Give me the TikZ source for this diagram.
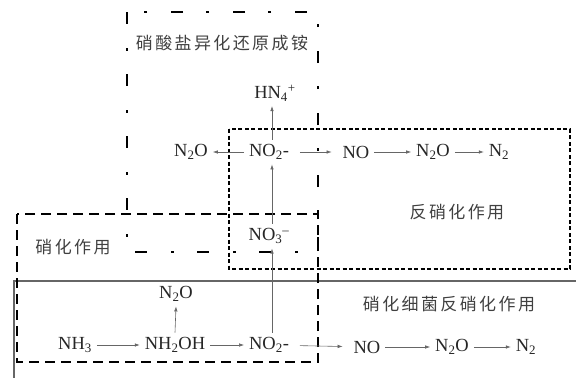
\documentclass[tikz,border=0pt]{standalone}
\usepackage{fontspec}
\setmainfont{Liberation Serif}
\newfontfamily\cjk[LetterSpace=14]{Noto Sans CJK SC}
\usetikzlibrary{arrows.meta,positioning}

\begin{document}
\begin{tikzpicture}[x=1pt,y=-1pt,
  chem/.style={inner sep=0pt,outer sep=5pt,font=\fontsize{18.5}{20}\selectfont,text=black!85},
  zh/.style={inner sep=0pt,font=\cjk\fontsize{17}{19}\selectfont,text=black!75},
  arr/.style={-{Latex[length=5pt,width=3.5pt]},draw=black!60,line width=0.6pt}]
          \useasboundingbox (0,0) rectangle (576,378);
          % boxes
          \draw[black!60,line width=1.2pt] (576,281) -- (14,281) -- (14,378);
          \draw[line width=2.5pt,dash pattern=on 12pt off 24pt on 3pt off 23pt] (127,12) rectangle (318,252);
          \draw[line width=2.5pt,dash pattern=on 10pt off 6pt] (17,214) rectangle (318,362);
          \draw[line width=2pt,dash pattern=on 4pt off 2.5pt] (229,129) rectangle (570,269);
          % labels
          \node[zh] at (222,43) (dnra) {硝酸盐异化还原成铵};
          \node[zh] at (457,212) (denit) {反硝化作用};
          \node[zh] at (73,247) (nitr) {硝化作用};
          \node[zh] at (449,304) (nbd) {硝化细菌反硝化作用};
          % upper pathway
          \node[chem] at (275,93) (hn4) {HN\textsubscript{4}\textsuperscript{+}};
          \node[chem] at (269,152) (no2a) {NO\textsubscript{2}-};
          \node[chem] at (191,152) (n2oa) {N\textsubscript{2}O};
          \node[chem] at (356,152) (noa) {NO};
          \node[chem] at (433,152) (n2ob) {N\textsubscript{2}O};
          \node[chem] at (499,152) (n2a) {N\textsubscript{2}};
          \node[chem] at (269,236) (no3) {NO\textsubscript{3}\textsuperscript{--}};
          % lower pathway
          \node[chem] at (176,294) (n2oc) {N\textsubscript{2}O};
          \node[chem] at (75,345) (nh3) {NH\textsubscript{3}};
          \node[chem] at (175,345) (nh2oh) {NH\textsubscript{2}OH};
          \node[chem] at (269,345) (no2b) {NO\textsubscript{2}-};
          \node[chem] at (367,347) (nob) {NO};
          \node[chem] at (452,347) (n2od) {N\textsubscript{2}O};
          \node[chem] at (526,347) (n2b) {N\textsubscript{2}};
          % arrows
          \draw[arr] ([xshift=3pt]no2a.north) -- ([xshift=3pt]no2a.north |- hn4.south);
          \draw[arr] (no2a) -- (n2oa);
          \draw[arr,shorten <=6pt,shorten >=6pt] (no2a) -- (noa);
          \draw[arr] (noa) -- (n2ob);
          \draw[arr] (n2ob) -- (n2a);
          \draw[arr] ([xshift=3pt]no3.north) -- ([xshift=3pt]no3.north |- no2a.south);
          \draw[arr] ([xshift=3pt]no2b.north) -- ([xshift=3pt]no2b.north |- no3.south);
          \draw[arr] (nh2oh.north) -- (n2oc.south);
          \draw[arr] (nh3) -- (nh2oh);
          \draw[arr] (nh2oh) -- (no2b);
          \draw[arr,shorten <=6pt,shorten >=6pt] (no2b) -- (nob);
          \draw[arr] (nob) -- (n2od);
          \draw[arr] (n2od) -- (n2b);
        \end{tikzpicture}
\end{document}
